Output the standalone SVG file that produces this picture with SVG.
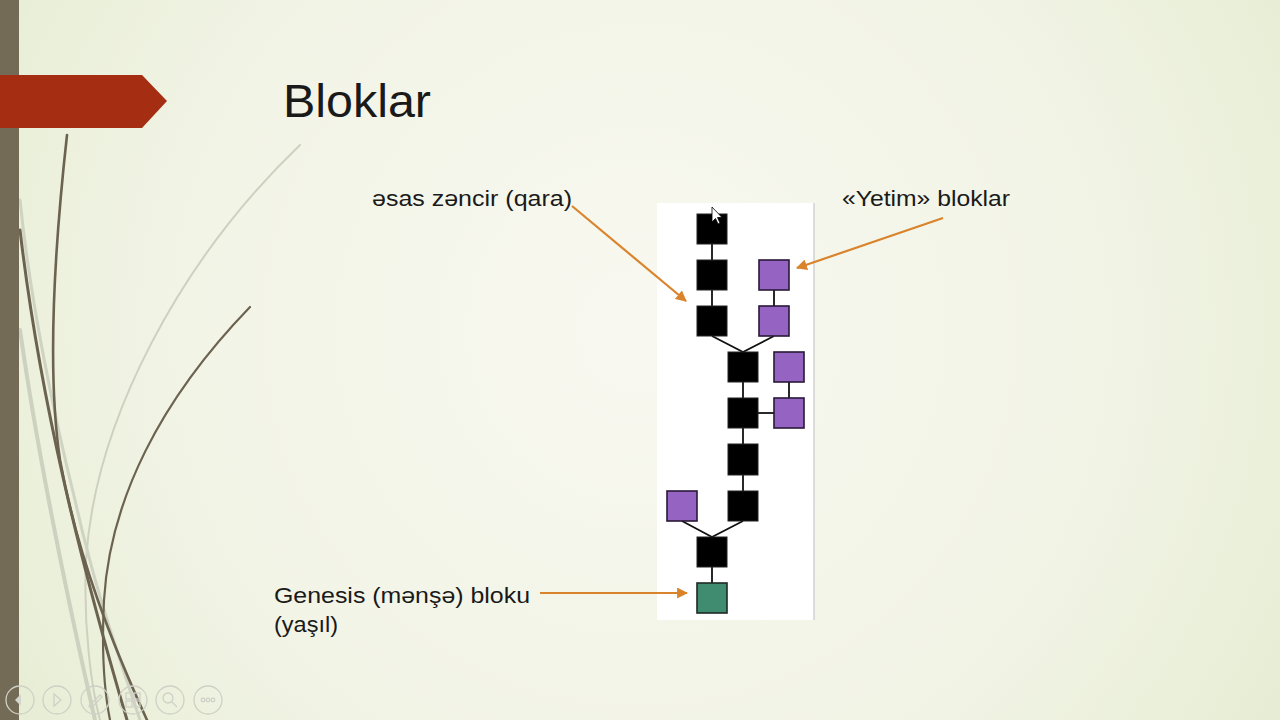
<svg xmlns="http://www.w3.org/2000/svg" width="1280" height="720" viewBox="0 0 1280 720">
<defs>
<radialGradient id="bg" cx="640" cy="330" r="760" gradientUnits="userSpaceOnUse">
<stop offset="0" stop-color="#f8f8f0"/>
<stop offset="0.6" stop-color="#f2f4e6"/>
<stop offset="1" stop-color="#e6edd3"/>
</radialGradient>
<marker id="ah" viewBox="0 0 10 10" refX="9" refY="5" markerWidth="5" markerHeight="5" orient="auto">
<path d="M0,0 L10,5 L0,10 z" fill="#d9842c"/>
</marker>
<style>
.lbl{font-family:"Liberation Sans",Arial,sans-serif;font-size:22px;fill:#1a1a1a}
.blk{fill:#000;stroke:#222;stroke-width:1}
.orp{fill:#9563c1;stroke:#2a1838;stroke-width:1.6}
.gen{fill:#3f8c70;stroke:#1e2a24;stroke-width:1.6}
.ln{stroke:#111;stroke-width:1.8;fill:none}
.arr{stroke:#d9842c;stroke-width:2.2;fill:none;marker-end:url(#ah)}
.nav{fill:none;stroke:#cfd0c6;stroke-width:1.3}
</style>
</defs>
<rect width="1280" height="720" fill="url(#bg)"/>
<!-- decorative curves -->
<g fill="none" stroke-linecap="round">
<path d="M300,145 C180,260 95,420 86,560 C83,630 92,690 100,720" stroke="#cdd1bf" stroke-width="2"/>
<path d="M20,330 C40,470 70,610 95,720" stroke="#cdd1c0" stroke-width="4"/>
<path d="M20,200 C30,300 55,420 75,500 C95,590 120,660 140,720" stroke="#cfd3c2" stroke-width="3"/>
<path d="M67,135 C52,270 48,380 60,460 C78,560 115,650 147,720" stroke="#6b6350" stroke-width="2.6"/>
<path d="M20,230 C40,400 80,560 127,720" stroke="#6b6350" stroke-width="3"/>
<path d="M250,307 C160,400 110,500 104,600 C101,660 106,700 110,720" stroke="#6b6350" stroke-width="2.2"/>
</g>
<rect x="0" y="0" width="19" height="720" fill="#736b55"/>
<polygon points="0,75 142,75 167,101 142,128 0,128" fill="#a52e12"/>
<text x="283" y="117" font-family="'Liberation Sans',Arial,sans-serif" font-size="47" fill="#1a1a1a" textLength="148" lengthAdjust="spacingAndGlyphs">Bloklar</text>
<!-- panel -->
<g id="panel">
<rect x="657" y="203" width="157" height="417" fill="#ffffff"/>
<line x1="814" y1="203" x2="814" y2="620" stroke="#d2d2d2" stroke-width="1.5"/>
</g>
<g id="connectors">
<line class="ln" x1="712" y1="244" x2="712" y2="260"/>
<line class="ln" x1="712" y1="290" x2="712" y2="306"/>
<line class="ln" x1="774" y1="290" x2="774" y2="306"/>
<polyline class="ln" points="712,336 743,352 774,336"/>
<line class="ln" x1="743" y1="382" x2="743" y2="398"/>
<line class="ln" x1="789" y1="382" x2="789" y2="398"/>
<line class="ln" x1="758" y1="413" x2="774" y2="413"/>
<line class="ln" x1="743" y1="428" x2="743" y2="444"/>
<line class="ln" x1="743" y1="475" x2="743" y2="491"/>
<polyline class="ln" points="682,521 712,537 743,521"/>
<line class="ln" x1="712" y1="567" x2="712" y2="583"/>
<line class="arr" x1="572" y1="206" x2="686" y2="301"/>
<line class="arr" x1="943" y1="218" x2="797" y2="268"/>
<line class="arr" x1="540" y1="593" x2="687" y2="593"/>
</g>
<g id="b1"><rect class="blk" x="697" y="214" width="30" height="30"/></g>
<g id="b2"><rect class="blk" x="697" y="260" width="30" height="30"/></g>
<g id="b3"><rect class="blk" x="697" y="306" width="30" height="30"/></g>
<g id="o1"><rect class="orp" x="759" y="260" width="30" height="30"/></g>
<g id="o2"><rect class="orp" x="759" y="306" width="30" height="30"/></g>
<g id="b4"><rect class="blk" x="728" y="352" width="30" height="30"/></g>
<g id="o3"><rect class="orp" x="774" y="352" width="30" height="30"/></g>
<g id="b5"><rect class="blk" x="728" y="398" width="30" height="30"/></g>
<g id="o4"><rect class="orp" x="774" y="398" width="30" height="30"/></g>
<g id="b6"><rect class="blk" x="728" y="444" width="30" height="31"/></g>
<g id="b7"><rect class="blk" x="728" y="491" width="30" height="30"/></g>
<g id="o5"><rect class="orp" x="667" y="491" width="30" height="30"/></g>
<g id="b8"><rect class="blk" x="697" y="537" width="30" height="30"/></g>
<g id="genesis"><rect class="gen" x="697" y="583" width="30" height="30"/></g>
<!-- cursor -->
<polygon points="712,207 712,222 715.5,218.5 718,224 720,223 717.5,217.5 722,217.5" fill="#fff" stroke="#000" stroke-width="0.8"/>
<g id="labels">
<text class="lbl" x="372" y="206" textLength="200" lengthAdjust="spacingAndGlyphs">əsas zəncir (qara)</text>
<text class="lbl" x="842" y="206" textLength="168" lengthAdjust="spacingAndGlyphs">«Yetim» bloklar</text>
<text class="lbl" x="274" y="603" textLength="256" lengthAdjust="spacingAndGlyphs">Genesis (mənşə) bloku</text>
<text class="lbl" x="274" y="632" textLength="64" lengthAdjust="spacingAndGlyphs">(yaşıl)</text>
</g>
<g id="nav">
<circle class="nav" cx="20" cy="700" r="14"/>
<path d="M21,694 L15,700 L21,706 z" fill="#d4d5cc"/>
<circle class="nav" cx="57" cy="700" r="14"/>
<path d="M54,694 L61,700 L54,706 z" class="nav"/>
<circle class="nav" cx="95" cy="700" r="14"/>
<path d="M89,706 L100,695 L102,697 L91,708 z" class="nav"/>
<circle class="nav" cx="133" cy="700" r="14"/>
<rect class="nav" x="126" y="693" width="6" height="6"/><rect class="nav" x="134" y="693" width="6" height="6"/><rect class="nav" x="126" y="701" width="6" height="6"/><rect class="nav" x="134" y="701" width="6" height="6"/>
<circle class="nav" cx="170" cy="700" r="14"/>
<circle class="nav" cx="168" cy="698" r="5"/><line class="nav" x1="172" y1="702" x2="177" y2="707"/>
<circle class="nav" cx="208" cy="700" r="14"/>
<circle class="nav" cx="203" cy="700" r="1.8"/><circle class="nav" cx="208" cy="700" r="1.8"/><circle class="nav" cx="213" cy="700" r="1.8"/>
</g>
</svg>
